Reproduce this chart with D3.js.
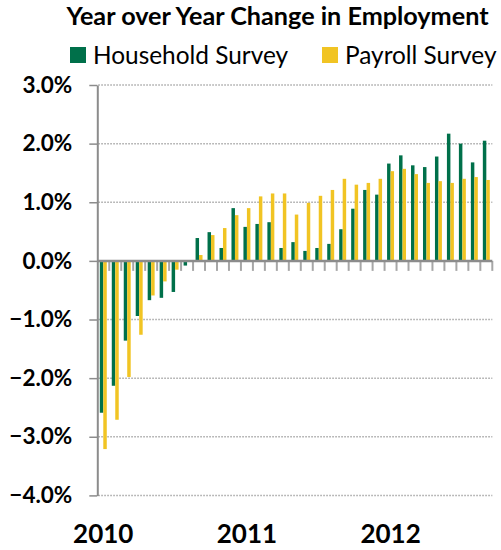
<!DOCTYPE html>
<html>
<head>
<meta charset="utf-8">
<script src="https://cdn.jsdelivr.net/npm/d3@7"></script>
<style>
  body { margin: 0; background: #fff; }
  svg { display: block; }
</style>
</head>
<body>
<div id="chart"></div>
<script>
// months Jan 2010 .. Sep 2012
const months = [
  "2010-01", "2010-02", "2010-03", "2010-04", "2010-05", "2010-06",
  "2010-07", "2010-08", "2010-09", "2010-10", "2010-11", "2010-12",
  "2011-01", "2011-02", "2011-03", "2011-04", "2011-05", "2011-06",
  "2011-07", "2011-08", "2011-09", "2011-10", "2011-11", "2011-12",
  "2012-01", "2012-02", "2012-03", "2012-04", "2012-05", "2012-06",
  "2012-07", "2012-08", "2012-09"
];
const household = [
  -2.59, -2.13, -1.36, -0.94, -0.67, -0.63, -0.53, -0.08, 0.39, 0.49, 0.22, 0.90,
  0.58, 0.63, 0.66, 0.22, 0.32, 0.17, 0.22, 0.29, 0.54, 0.89, 1.21, 1.13,
  1.66, 1.80, 1.63, 1.60, 1.78, 2.17, 2.00, 1.68, 2.05
];
const payroll = [
  -3.21, -2.71, -1.98, -1.26, -0.59, -0.35, -0.15, 0.0, 0.10, 0.44, 0.56, 0.78,
  0.90, 1.10, 1.15, 1.15, 0.79, 0.99, 1.11, 1.21, 1.40, 1.30, 1.33, 1.40,
  1.53, 1.57, 1.48, 1.33, 1.36, 1.33, 1.40, 1.43, 1.38
];
const seriesNames = ["Household Survey", "Payroll Survey"];
const yTicks = [3, 2, 1, 0, -1, -2, -3, -4];
const yearTicks = [["2010-01", "2010"], ["2011-01", "2011"], ["2012-01", "2012"]];

const colors = ["#00704a", "#f1c423"];
const width = 501, height = 550;
const plot = { left: 97.3, right: 492.3, top: 85, bottom: 495.4 };

const svg = d3.select("#chart").append("svg")
  .attr("width", width)
  .attr("height", height)
  .style("font-family", "Lato, 'Open Sans', sans-serif");

const x = d3.scaleBand().domain(months).range([plot.left, plot.right]).padding(0);
const xs = d3.scaleBand().domain(seriesNames).range([0, x.bandwidth()])
  .paddingInner(0).paddingOuter(0.72);
const y = d3.scaleLinear().domain([-4, 3]).range([plot.bottom, plot.top]);

// title
svg.append("text")
  .attr("x", 277.5)
  .attr("y", 25)
  .attr("text-anchor", "middle")
  .style("font-weight", "bold")
  .style("font-size", "25.2px")
  .text("Year over Year Change in Employment");

// legend
const legendX = [70, 322];
const legend = svg.selectAll(".legend")
  .data(seriesNames)
  .join("g")
  .attr("class", "legend")
  .attr("transform", (d, i) => `translate(${legendX[i]}, 47)`);
legend.append("rect")
  .attr("width", 16).attr("height", 16)
  .attr("fill", (d, i) => colors[i]);
legend.append("text")
  .attr("x", 23)
  .attr("y", 16.5)
  .style("font-size", "24.4px")
  .text(d => d);

// dotted gridlines
svg.append("g")
  .selectAll("line")
  .data(yTicks.filter(d => d !== 0))
  .join("line")
  .attr("x1", plot.left + 1).attr("x2", plot.right)
  .attr("y1", d => y(d)).attr("y2", d => y(d))
  .attr("stroke", "#a6a6a6")
  .attr("stroke-width", 1.5)
  .attr("stroke-dasharray", "1.5,1.5");

// y axis
const yAxis = svg.append("g")
  .attr("transform", `translate(${plot.left}, 0)`)
  .call(d3.axisLeft(y).tickValues(yTicks).tickSize(8).tickSizeOuter(0)
    .tickPadding(17).tickFormat(d => d3.format(".1f")(d) + "%"));
yAxis.select(".domain").attr("stroke", "#8c8c8c").attr("stroke-width", 2);
yAxis.selectAll(".tick line").attr("stroke", "#8c8c8c").attr("stroke-width", 1.5);
yAxis.selectAll(".tick text")
  .attr("fill", "#000")
  .style("font-family", "Lato, 'Open Sans', sans-serif")
  .style("font-weight", "bold")
  .style("font-size", "22.5px");

// bars
const rows = months.map((m, i) => ({ month: m, values: [household[i], payroll[i]] }));
svg.append("g")
  .selectAll("g")
  .data(rows)
  .join("g")
  .attr("transform", d => `translate(${x(d.month)}, 0)`)
  .selectAll("rect")
  .data(d => d.values.map((v, i) => ({ key: seriesNames[i], value: v, i })))
  .join("rect")
  .attr("x", d => xs(d.key))
  .attr("width", xs.bandwidth())
  .attr("y", d => y(Math.max(0, d.value)))
  .attr("height", d => Math.abs(y(d.value) - y(0)))
  .attr("fill", d => colors[d.i]);

// zero line with category ticks
svg.append("g")
  .selectAll("line")
  .data(months)
  .join("line")
  .attr("x1", d => x(d) + x.bandwidth())
  .attr("x2", d => x(d) + x.bandwidth())
  .attr("y1", y(0))
  .attr("y2", y(0) + 10)
  .attr("stroke", "#a6a6a6")
  .attr("stroke-width", 2);
svg.append("line")
  .attr("x1", plot.left).attr("x2", plot.right)
  .attr("y1", y(0)).attr("y2", y(0))
  .attr("stroke", "#8c8c8c")
  .attr("stroke-width", 2.5);

// year labels
svg.append("g")
  .selectAll("text")
  .data(yearTicks)
  .join("text")
  .attr("x", d => x(d[0]) + x.bandwidth() / 2)
  .attr("y", 543)
  .attr("text-anchor", "middle")
  .style("font-weight", "bold")
  .style("font-size", "26px")
  .text(d => d[1]);
</script>
</body>
</html>
